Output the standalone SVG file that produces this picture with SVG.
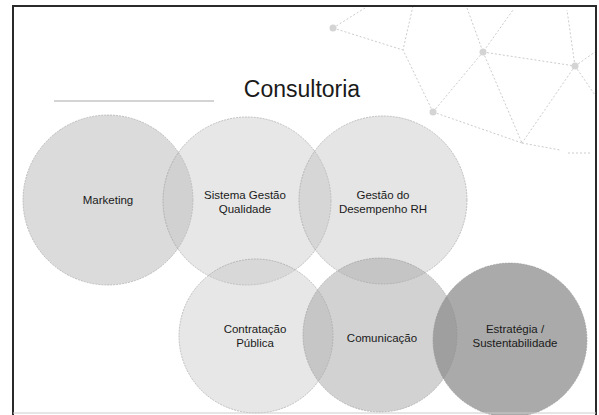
<svg xmlns="http://www.w3.org/2000/svg" width="599" height="415" viewBox="0 0 599 415">
<style>
.lbl{font-family:"Liberation Sans",Arial,sans-serif;font-size:11.5px;fill:#1a1a1a;text-anchor:middle}
.ttl{font-family:"Liberation Sans",Arial,sans-serif;font-size:23px;fill:#1a1a1a;text-anchor:middle}
.net{stroke:#cccccc;stroke-width:1;stroke-dasharray:2 2;fill:none}
.nd{fill:#d4d4d4}
.c{stroke:#8a8a8a;stroke-width:0.8;stroke-opacity:0.6;stroke-dasharray:2 1}
</style>
<rect width="599" height="415" fill="#ffffff"/>
<g id="decor">
<path class="net" d="M333 28L365 8M333 28L403 50M413 6L403 50L433 112M467 8L483 52L513 10M483 52L433 112M483 52L522 143M433 112L522 143M483 52L575 66M575 66L567 10M575 66L522 143M575 66L595 52M575 66L595 95M522 143L560 150M568 153L590 153"/>
<circle class="nd" cx="333" cy="28" r="3.5"/>
<circle class="nd" cx="483" cy="52" r="3.5"/>
<circle class="nd" cx="575" cy="66" r="3.5"/>
<circle class="nd" cx="433" cy="112" r="3.5"/>
<line x1="54" y1="101" x2="214" y2="101" stroke="#a8a8a8" stroke-width="1"/>
</g>
<g id="title"><text class="ttl" x="302" y="97">Consultoria</text></g>
<g id="connectors"></g>
<g id="n-marketing"><circle class="c" cx="108" cy="200" r="85" fill="#a4a4a4" fill-opacity="0.4"/><text class="lbl" x="108" y="204">Marketing</text></g>
<g id="n-sistema"><circle class="c" cx="247" cy="201" r="84" fill="#c2c2c2" fill-opacity="0.4"/><text class="lbl" x="245" y="199">Sistema Gestão</text><text class="lbl" x="245" y="213">Qualidade</text></g>
<g id="n-gestao"><circle class="c" cx="383" cy="200" r="84" fill="#bdbdbd" fill-opacity="0.4"/><text class="lbl" x="383" y="199">Gestão do</text><text class="lbl" x="383" y="213">Desempenho RH</text></g>
<g id="n-contratacao"><circle class="c" cx="256" cy="336" r="77" fill="#c2c2c2" fill-opacity="0.4"/><text class="lbl" x="255" y="333">Contratação</text><text class="lbl" x="255" y="347">Pública</text></g>
<g id="n-comunicacao"><circle class="c" cx="380" cy="335" r="77" fill="#a6a6a6" fill-opacity="0.5"/><text class="lbl" x="382" y="342">Comunicação</text></g>
<g id="n-estrategia"><circle class="c" cx="510" cy="340" r="77" fill="#8e8e8e" fill-opacity="0.75"/><text class="lbl" x="515" y="333">Estratégia /</text><text class="lbl" x="515" y="347">Sustentabilidade</text></g>
<g id="frame">
<path d="M13 415V6H596V415" fill="none" stroke="#2a2a2a" stroke-width="2"/>
<line x1="13" y1="413" x2="596" y2="413" stroke="#cccccc" stroke-width="1"/>
</g>
</svg>
